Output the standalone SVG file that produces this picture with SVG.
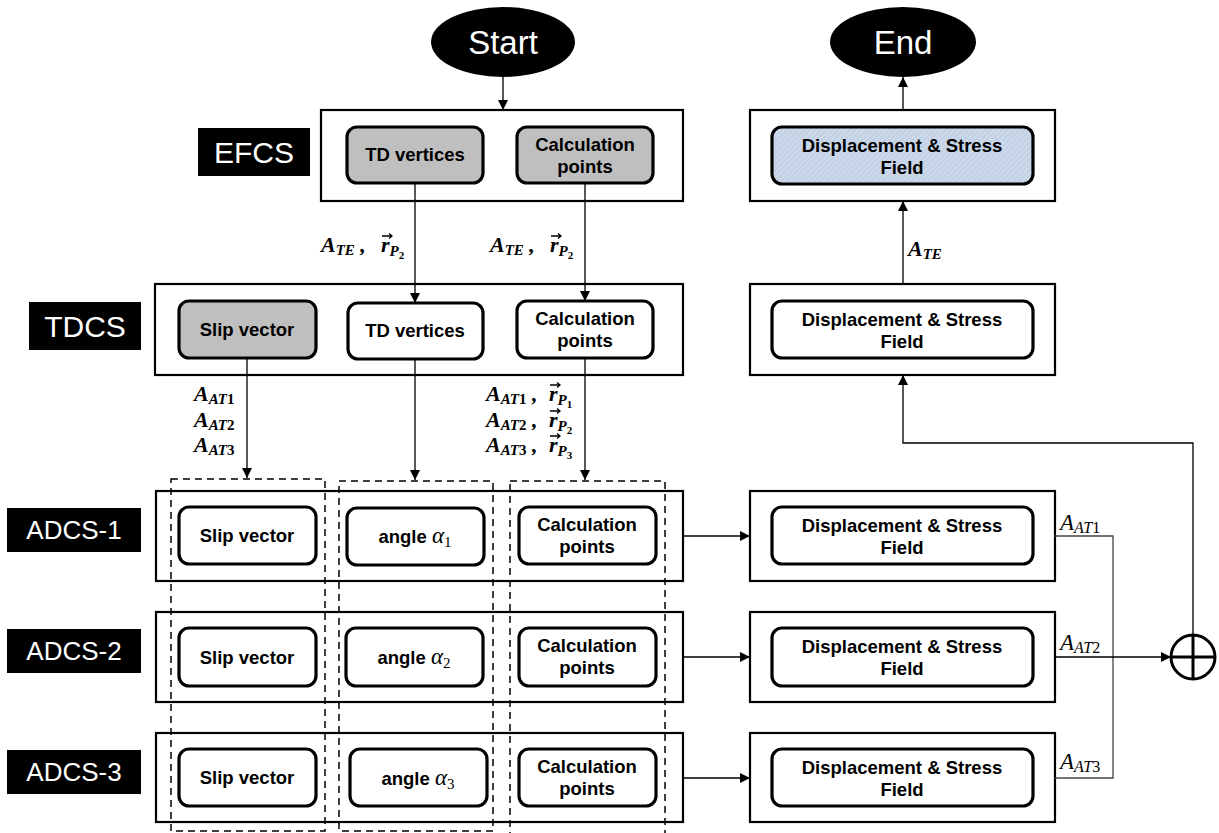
<svg xmlns="http://www.w3.org/2000/svg" width="1219" height="833" viewBox="0 0 1219 833">
<defs>
<style>
.outer{fill:#fff;stroke:#000;stroke-width:2.2}
.inner{fill:#fff;stroke:#000;stroke-width:3.2}
.gray{fill:#bfbfbf;stroke:#000;stroke-width:3.2}
.blue{fill:url(#hatch);stroke:#000;stroke-width:3.2}
.wt{font-family:"Liberation Sans",Arial,sans-serif;fill:#fff;text-anchor:middle}
.bt{font-family:"Liberation Sans",Arial,sans-serif;font-weight:bold;font-size:18.5px;fill:#000;text-anchor:middle}
.m{font-family:"Liberation Serif","Times New Roman",serif;font-style:italic;font-weight:bold;font-size:22px;fill:#000}
.mr{font-family:"Liberation Serif","Times New Roman",serif;font-style:italic;font-size:23px;fill:#000}
.al{font-family:"Liberation Serif","Times New Roman",serif;font-style:italic;font-weight:normal;font-size:23px}
.s{font-size:15px}
.s2{font-size:16px}
.ss{font-size:11px}
.up{font-style:normal}
.dash{fill:none;stroke:#000;stroke-width:1.5;stroke-dasharray:7,5}
.conn{fill:none;stroke:#000;stroke-width:1.3}
.bus{fill:none;stroke:#444;stroke-width:1.3}
.vec{fill:none;stroke:#000;stroke-width:1.3}
</style>
<pattern id="hatch" width="4" height="4" patternUnits="userSpaceOnUse" patternTransform="rotate(45)">
<rect width="4" height="4" fill="#cbd8ea"/>
<line x1="0" y1="0" x2="0" y2="4" stroke="#b5c5dc" stroke-width="1.2"/>
</pattern>
<marker id="arr" viewBox="0 0 10 10" refX="10" refY="5" markerWidth="10" markerHeight="10" markerUnits="userSpaceOnUse" orient="auto">
<path d="M0,0 L10,5 L0,10 z" fill="#000"/>
</marker>
<g id="vecarrow">
<path class="vec" d="M0,0 H10 M7,-2.5 L10,0 L7,2.5"/>
</g>
</defs>
<rect width="1219" height="833" fill="#fff"/>

<g id="start">
<ellipse cx="503" cy="42" rx="72" ry="35" fill="#000"/>
<text class="wt" x="503" y="54" font-size="33">Start</text>
</g>
<g id="end">
<ellipse cx="903" cy="42" rx="73" ry="35" fill="#000"/>
<text class="wt" x="903" y="54" font-size="33">End</text>
</g>

<g id="efcs-label"><rect x="198" y="128" width="112" height="48" fill="#000"/><text class="wt" x="254" y="163" font-size="30">EFCS</text></g>
<g id="tdcs-label"><rect x="29" y="302" width="112" height="48" fill="#000"/><text class="wt" x="85" y="337" font-size="30">TDCS</text></g>
<g id="adcs1-label"><rect x="7" y="508" width="134" height="44" fill="#000"/><text class="wt" x="74" y="539" font-size="26">ADCS-1</text></g>
<g id="adcs2-label"><rect x="7" y="629" width="134" height="44" fill="#000"/><text class="wt" x="74" y="660" font-size="26">ADCS-2</text></g>
<g id="adcs3-label"><rect x="7" y="750" width="134" height="44" fill="#000"/><text class="wt" x="74" y="781" font-size="26">ADCS-3</text></g>

<g id="efcs">
<rect class="outer" x="321" y="110" width="362" height="91"/>
<rect class="gray" x="347" y="127" width="136" height="56" rx="10"/>
<text class="bt" x="415" y="161">TD vertices</text>
<rect class="gray" x="517" y="127" width="136" height="56" rx="10"/>
<text class="bt" x="585" y="151">Calculation</text>
<text class="bt" x="585" y="173">points</text>
</g>

<g id="tdcs">
<rect class="outer" x="155" y="284" width="528" height="91"/>
<rect class="gray" x="179" y="301" width="137" height="57" rx="10"/>
<text class="bt" x="247" y="336">Slip vector</text>
<rect class="inner" x="348" y="303" width="135" height="56" rx="10"/>
<text class="bt" x="415" y="337">TD vertices</text>
<rect class="inner" x="517" y="301" width="136" height="57" rx="10"/>
<text class="bt" x="585" y="325">Calculation</text>
<text class="bt" x="585" y="347">points</text>
</g>

<g id="adcs1">
<rect class="outer" x="156" y="491" width="527" height="90"/>
<rect class="inner" x="179" y="507" width="137" height="57" rx="10"/>
<text class="bt" x="247" y="542">Slip vector</text>
<rect class="inner" x="347" y="508" width="137" height="57" rx="10"/>
<text class="bt" x="415" y="543">angle <tspan class="al">α</tspan><tspan class="al up s" dy="4">1</tspan></text>
<rect class="inner" x="519" y="507" width="137" height="57" rx="10"/>
<text class="bt" x="587" y="531">Calculation</text>
<text class="bt" x="587" y="553">points</text>
</g>

<g id="adcs2">
<rect class="outer" x="156" y="612" width="527" height="90"/>
<rect class="inner" x="179" y="628" width="137" height="58" rx="10"/>
<text class="bt" x="247" y="664">Slip vector</text>
<rect class="inner" x="346" y="628" width="137" height="58" rx="10"/>
<text class="bt" x="414" y="664">angle <tspan class="al">α</tspan><tspan class="al up s" dy="4">2</tspan></text>
<rect class="inner" x="519" y="628" width="137" height="58" rx="10"/>
<text class="bt" x="587" y="652">Calculation</text>
<text class="bt" x="587" y="674">points</text>
</g>

<g id="adcs3">
<rect class="outer" x="156" y="733" width="527" height="89"/>
<rect class="inner" x="179" y="749" width="137" height="57" rx="10"/>
<text class="bt" x="247" y="784">Slip vector</text>
<rect class="inner" x="350" y="749" width="137" height="57" rx="10"/>
<text class="bt" x="418" y="785">angle <tspan class="al">α</tspan><tspan class="al up s" dy="4">3</tspan></text>
<rect class="inner" x="519" y="749" width="137" height="57" rx="10"/>
<text class="bt" x="587" y="773">Calculation</text>
<text class="bt" x="587" y="795">points</text>
</g>

<!-- Dashed column groups (drawn over the rows, as in the picture) -->
<g id="dashed-columns">
<rect class="dash" x="171" y="479" width="154" height="352"/>
<rect class="dash" x="339" y="481" width="154" height="350"/>
<rect class="dash" x="510" y="481" width="155" height="360"/>
</g>

<g id="result-total">
<rect class="outer" x="750" y="110" width="305" height="91"/>
<rect class="blue" x="772" y="127" width="261" height="57" rx="10"/>
<text class="bt" x="902" y="152">Displacement &amp; Stress</text>
<text class="bt" x="902" y="174">Field</text>
</g>
<g id="result-tdcs">
<rect class="outer" x="750" y="284" width="305" height="91"/>
<rect class="inner" x="772" y="301" width="261" height="57" rx="10"/>
<text class="bt" x="902" y="326">Displacement &amp; Stress</text>
<text class="bt" x="902" y="348">Field</text>
</g>
<g id="result-adcs1">
<rect class="outer" x="750" y="491" width="305" height="90"/>
<rect class="inner" x="772" y="507" width="261" height="57" rx="10"/>
<text class="bt" x="902" y="532">Displacement &amp; Stress</text>
<text class="bt" x="902" y="554">Field</text>
</g>
<g id="result-adcs2">
<rect class="outer" x="750" y="612" width="305" height="90"/>
<rect class="inner" x="772" y="628" width="261" height="58" rx="10"/>
<text class="bt" x="902" y="653">Displacement &amp; Stress</text>
<text class="bt" x="902" y="675">Field</text>
</g>
<g id="result-adcs3">
<rect class="outer" x="750" y="733" width="305" height="89"/>
<rect class="inner" x="772" y="749" width="261" height="57" rx="10"/>
<text class="bt" x="902" y="774">Displacement &amp; Stress</text>
<text class="bt" x="902" y="796">Field</text>
</g>

<g id="sum">
<circle cx="1193" cy="657" r="22" fill="#fff" stroke="#000" stroke-width="3"/>
<line x1="1171" y1="657" x2="1215" y2="657" stroke="#000" stroke-width="3"/>
<line x1="1193" y1="635" x2="1193" y2="679" stroke="#000" stroke-width="3"/>
</g>

<g id="connectors">
<line class="conn" x1="503" y1="77" x2="503" y2="110" marker-end="url(#arr)"/>
<line class="conn" x1="415" y1="183" x2="415" y2="303" marker-end="url(#arr)"/>
<line class="conn" x1="585" y1="183" x2="585" y2="301" marker-end="url(#arr)"/>
<line class="conn" x1="247" y1="358" x2="247" y2="478" marker-end="url(#arr)"/>
<line class="conn" x1="415" y1="359" x2="415" y2="480" marker-end="url(#arr)"/>
<line class="conn" x1="585" y1="358" x2="585" y2="480" marker-end="url(#arr)"/>
<line class="conn" x1="683" y1="536" x2="750" y2="536" marker-end="url(#arr)"/>
<line class="conn" x1="683" y1="657" x2="750" y2="657" marker-end="url(#arr)"/>
<line class="conn" x1="683" y1="778" x2="750" y2="778" marker-end="url(#arr)"/>
<path class="bus" d="M1055,536 H1113 V778 H1055"/>
<line class="conn" x1="1055" y1="657" x2="1171" y2="657" marker-end="url(#arr)"/>
<path class="conn" d="M1193,635 V443 H903 V375" marker-end="url(#arr)"/>
<line class="conn" x1="903" y1="284" x2="903" y2="201" marker-end="url(#arr)"/>
<line class="conn" x1="903" y1="110" x2="903" y2="77" marker-end="url(#arr)"/>
</g>

<g id="connector-labels">
<text class="m" x="321" y="252">A<tspan class="s" dy="3">TE</tspan><tspan dy="-3"> ,</tspan><tspan x="381">r</tspan><tspan class="s" dy="4">P</tspan><tspan class="ss up" dy="3">2</tspan></text>
<use href="#vecarrow" x="382" y="236"/>
<text class="m" x="490" y="252">A<tspan class="s" dy="3">TE</tspan><tspan dy="-3"> ,</tspan><tspan x="550">r</tspan><tspan class="s" dy="4">P</tspan><tspan class="ss up" dy="3">2</tspan></text>
<use href="#vecarrow" x="551" y="236"/>
<text class="m" x="908" y="256">A<tspan class="s" dy="3">TE</tspan></text>
<text class="m" x="194" y="401">A<tspan class="s" dy="3">AT</tspan><tspan class="s up">1</tspan></text>
<text class="m" x="194" y="427">A<tspan class="s" dy="3">AT</tspan><tspan class="s up">2</tspan></text>
<text class="m" x="194" y="452">A<tspan class="s" dy="3">AT</tspan><tspan class="s up">3</tspan></text>
<text class="m" x="486" y="401">A<tspan class="s" dy="3">AT</tspan><tspan class="s up">1</tspan><tspan dy="-3"> ,</tspan><tspan x="549">r</tspan><tspan class="s" dy="4">P</tspan><tspan class="ss up" dy="3">1</tspan></text>
<use href="#vecarrow" x="550" y="385"/>
<text class="m" x="486" y="427">A<tspan class="s" dy="3">AT</tspan><tspan class="s up">2</tspan><tspan dy="-3"> ,</tspan><tspan x="549">r</tspan><tspan class="s" dy="4">P</tspan><tspan class="ss up" dy="3">2</tspan></text>
<use href="#vecarrow" x="550" y="411"/>
<text class="m" x="486" y="452">A<tspan class="s" dy="3">AT</tspan><tspan class="s up">3</tspan><tspan dy="-3"> ,</tspan><tspan x="549">r</tspan><tspan class="s" dy="4">P</tspan><tspan class="ss up" dy="3">3</tspan></text>
<use href="#vecarrow" x="550" y="436"/>
<text class="mr" x="1060" y="530">A<tspan class="s2" dy="3">AT</tspan><tspan class="s2 up">1</tspan></text>
<text class="mr" x="1060" y="650">A<tspan class="s2" dy="3">AT</tspan><tspan class="s2 up">2</tspan></text>
<text class="mr" x="1060" y="769">A<tspan class="s2" dy="3">AT</tspan><tspan class="s2 up">3</tspan></text>
</g>
</svg>
